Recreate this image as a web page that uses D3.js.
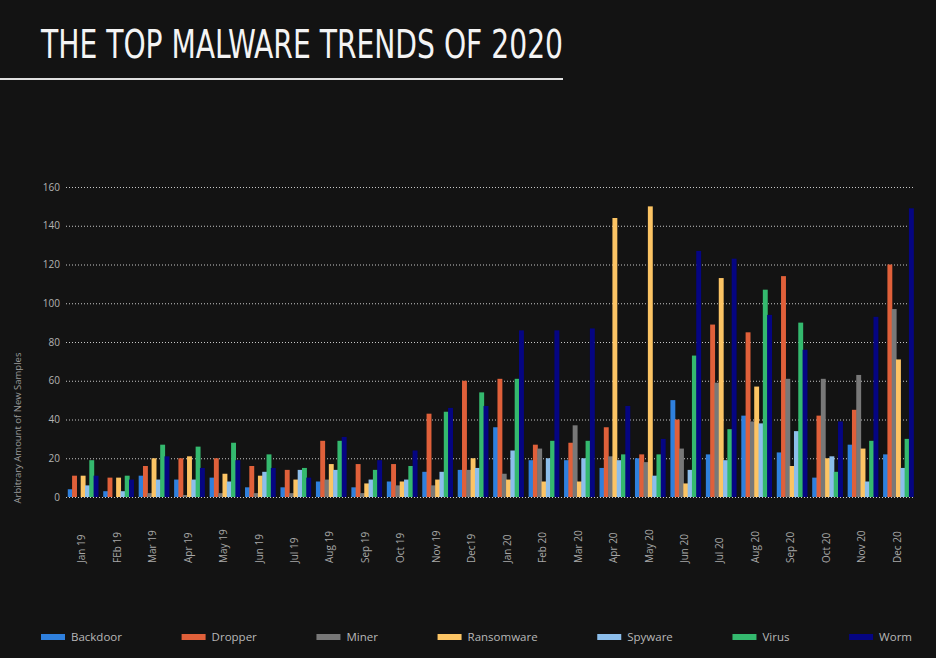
<!DOCTYPE html>
<html>
<head>
<meta charset="utf-8">
<script src="https://cdn.jsdelivr.net/npm/d3@7"></script>
<style>
  html, body { margin: 0; padding: 0; background: #131313; }
  svg { display: block; }
</style>
</head>
<body>
<svg id="chart" width="936" height="658"></svg>
<script>
const months = ["Jan 19", "FEb 19", "Mar 19", "Apr 19", "May 19", "Jun 19", "Jul 19", "Aug 19",
  "Sep 19", "Oct 19", "Nov 19", "Dec19", "Jan 20", "Feb 20", "Mar 20", "Apr 20",
  "May 20", "Jun 20", "Jul 20", "Aug 20", "Sep 20", "Oct 20", "Nov 20", "Dec 20"];

const seriesNames = ["Backdoor", "Dropper", "Miner", "Ransomware", "Spyware", "Virus", "Worm"];
const seriesColors = ["#2f80dd", "#e0603a", "#787878", "#fcc464", "#8cbeeb", "#34b96e", "#050582"];

const backdoor   = [4, 3, 11, 9, 10, 5, 5, 8, 5, 8, 13, 14, 36, 19, 19, 15, 20, 50, 22, 42, 23, 10, 27, 22];
const dropper    = [11, 10, 16, 20, 20, 16, 14, 29, 17, 17, 43, 60, 61, 27, 28, 36, 22, 40, 89, 85, 114, 42, 45, 120];
const miner      = [0, 0, 2, 1, 2, 2, 2, 9, 2, 6, 6, 14, 12, 25, 37, 21, 18, 25, 59, 39, 61, 61, 63, 97];
const ransomware = [11, 10, 20, 21, 12, 11, 9, 17, 7, 8, 9, 20, 9, 8, 8, 144, 150, 7, 113, 57, 16, 20, 25, 71];
const spyware    = [6, 3, 9, 9, 8, 13, 14, 14, 9, 9, 13, 15, 24, 20, 20, 19, 11, 14, 19, 38, 34, 21, 8, 15];
const virus      = [19, 11, 27, 26, 28, 22, 15, 29, 14, 16, 44, 54, 61, 29, 29, 22, 22, 73, 35, 107, 90, 13, 29, 30];
const worm       = [11, 9, 21, 15, 19, 15, 10, 31, 19, 24, 46, 47, 86, 86, 87, 47, 30, 127, 123, 94, 76, 39, 93, 149];

const seriesValues = [backdoor, dropper, miner, ransomware, spyware, virus, worm];
const yTicks = [0, 20, 40, 60, 80, 100, 120, 140, 160];

const svg = d3.select("#chart");
const textFont = "'Open Sans', 'Noto Sans', sans-serif";

// title + rule under it
svg.append("text")
  .attr("x", 41)
  .attr("y", 58)
  .attr("textLength", 522)
  .attr("lengthAdjust", "spacingAndGlyphs")
  .style("font-family", "'DejaVu Sans Condensed', 'Liberation Sans Narrow', sans-serif")
  .style("font-size", "39px")
  .style("fill", "#f4f4f4")
  .text("THE TOP MALWARE TRENDS OF 2020");

svg.append("line")
  .attr("x1", 0).attr("x2", 563)
  .attr("y1", 79).attr("y2", 79)
  .attr("stroke", "#e0e0e0")
  .attr("stroke-width", 2);

// scales
const x0 = d3.scaleBand()
  .domain(months)
  .range([66, 915])
  .paddingInner(0.15)
  .paddingOuter(0.05);

const x1 = d3.scaleBand()
  .domain(seriesNames)
  .range([0, x0.bandwidth()]);

const y = d3.scaleLinear()
  .domain([0, 160])
  .range([497, 187]);

// grid lines
const grid = svg.append("g")
  .attr("transform", "translate(66,0)")
  .call(d3.axisRight(y).tickValues(yTicks).tickSize(849).tickFormat(""));
grid.select(".domain").remove();
grid.selectAll("line")
  .attr("stroke", "#c8c8c8")
  .attr("stroke-dasharray", "1,2");

// y tick labels
const yAxis = svg.append("g")
  .attr("transform", "translate(60,0)")
  .call(d3.axisLeft(y).tickValues(yTicks).tickSize(0).tickPadding(0));
yAxis.select(".domain").remove();
yAxis.selectAll("text")
  .style("font-family", textFont)
  .style("font-size", "10px")
  .style("fill", "#b4b4b4");

svg.append("text")
  .attr("transform", "translate(21,428) rotate(-90)")
  .attr("text-anchor", "middle")
  .style("font-family", textFont)
  .style("font-size", "9.5px")
  .style("fill", "#9a9a9a")
  .text("Arbitrary Amount of New Samples");

// bars
const groups = svg.append("g")
  .selectAll("g")
  .data(months)
  .enter()
  .append("g")
  .attr("transform", d => `translate(${x0(d)},0)`);

groups.selectAll("rect")
  .data((m, i) => seriesNames.map((s, k) => ({ series: s, color: seriesColors[k], value: seriesValues[k][i] })))
  .enter()
  .append("rect")
  .attr("x", d => x1(d.series))
  .attr("width", x1.bandwidth() + 0.6)
  .attr("y", d => y(d.value))
  .attr("height", d => y(0) - y(d.value))
  .attr("fill", d => d.color);

// x labels
const xAxis = svg.append("g")
  .attr("transform", "translate(0,563)")
  .call(d3.axisBottom(x0).tickSize(0).tickPadding(0));
xAxis.select(".domain").remove();
xAxis.selectAll("text")
  .attr("transform", "rotate(-90)")
  .attr("text-anchor", "start")
  .attr("x", 0)
  .attr("y", -1)
  .attr("dy", "0.35em")
  .style("font-family", textFont)
  .style("font-size", "10px")
  .style("fill", "#a8a8a8");

// legend, evenly spread between left and right edges
const legend = svg.append("g").attr("transform", "translate(0,637)");
const items = legend.selectAll("g")
  .data(seriesNames)
  .enter()
  .append("g");

items.append("rect")
  .attr("y", -3)
  .attr("width", 24)
  .attr("height", 6)
  .attr("fill", (d, i) => seriesColors[i]);

items.append("text")
  .attr("x", 30)
  .attr("dy", "0.35em")
  .style("font-family", textFont)
  .style("font-size", "11.5px")
  .style("fill", "#b8b8b8")
  .text(d => d);

const widths = [];
items.each(function () {
  widths.push(30 + d3.select(this).select("text").node().getComputedTextLength());
});
const legendLeft = 41, legendRight = 912;
const gap = (legendRight - legendLeft - d3.sum(widths)) / (widths.length - 1);
let cursor = legendLeft;
items.attr("transform", (d, i) => {
  const pos = cursor;
  cursor += widths[i] + gap;
  return `translate(${pos},0)`;
});
</script>
</body>
</html>
